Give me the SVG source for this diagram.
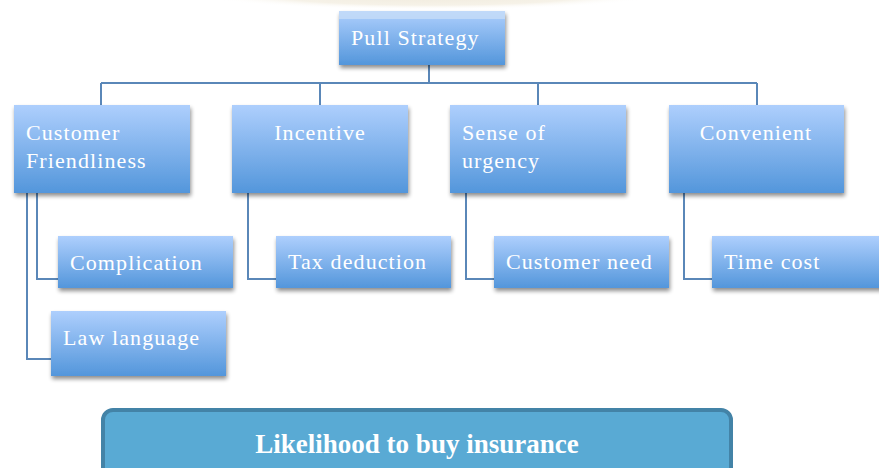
<svg xmlns="http://www.w3.org/2000/svg" width="879" height="468" viewBox="0 0 879 468">
  <defs>
    <linearGradient id="boxFill" x1="0" y1="0" x2="0" y2="1">
      <stop offset="0" stop-color="#aecffd"/>
      <stop offset="1" stop-color="#5396db"/>
    </linearGradient>
    <radialGradient id="glow" cx="0.5" cy="0.5" r="0.5">
      <stop offset="0" stop-color="#efe9da"/>
      <stop offset="0.7" stop-color="#f6f2e8"/>
      <stop offset="1" stop-color="#ffffff" stop-opacity="0"/>
    </radialGradient>
    <filter id="shadow" x="-10%" y="-20%" width="125%" height="150%">
      <feGaussianBlur in="SourceAlpha" stdDeviation="2"/>
      <feOffset dx="1" dy="3" result="b"/>
      <feComponentTransfer><feFuncA type="linear" slope="0.45"/></feComponentTransfer>
      <feMerge><feMergeNode/><feMergeNode in="SourceGraphic"/></feMerge>
    </filter>
  </defs>
  <style>
    .box { fill: url(#boxFill); filter: url(#shadow); }
    .lbl { font-family: "Liberation Serif", "DejaVu Serif", serif; font-size: 22px; letter-spacing: 1.1px; fill: #ffffff; }
    .conn { fill: none; stroke: #5a87b8; stroke-width: 2; }
    .result { fill: #59aad4; stroke: #4383a7; stroke-width: 4; }
    .result-lbl { font-family: "Liberation Serif", serif; font-size: 27px; font-weight: bold; fill: #ffffff; }
  </style>

  <rect width="879" height="468" fill="#ffffff"/>
  <!-- soft glow at the top edge -->
  <ellipse cx="430" cy="-6" rx="230" ry="16" fill="url(#glow)"/>

  <!-- connectors -->
  <g id="connectors">
    <path class="conn" d="M429 65 V83 M101 83 H757 M101 83 V105 M320 83 V105 M538 83 V105 M757 83 V105"/>
    <path class="conn" d="M37 193 V279 H66"/>
    <path class="conn" d="M27 193 V359 H58"/>
    <path class="conn" d="M248 193 V279 H276"/>
    <path class="conn" d="M466 193 V279 H494"/>
    <path class="conn" d="M684 193 V279 H712"/>
  </g>

  <g id="pull-strategy">
    <rect class="box" x="339" y="11" width="166" height="54"/>
    <rect x="339" y="11" width="166" height="8" fill="#c6dcf8" opacity="0.8"/>
    <text class="lbl" x="351" y="45">Pull Strategy</text>
  </g>

  <g id="customer-friendliness">
    <rect class="box" x="14" y="105" width="176" height="88"/>
    <text class="lbl" x="26" y="140">Customer</text>
    <text class="lbl" x="26" y="168">Friendliness</text>
  </g>
  <g id="incentive">
    <rect class="box" x="232" y="105" width="176" height="88"/>
    <text class="lbl" x="320" y="140" text-anchor="middle">Incentive</text>
  </g>
  <g id="sense-of-urgency">
    <rect class="box" x="450" y="105" width="176" height="88"/>
    <text class="lbl" x="462" y="140">Sense of</text>
    <text class="lbl" x="462" y="168">urgency</text>
  </g>
  <g id="convenient">
    <rect class="box" x="669" y="105" width="175" height="88"/>
    <text class="lbl" x="756" y="140" text-anchor="middle">Convenient</text>
  </g>

  <g id="complication">
    <rect class="box" x="58" y="236" width="175" height="52"/>
    <text class="lbl" x="70" y="270">Complication</text>
  </g>
  <g id="law-language">
    <rect class="box" x="51" y="311" width="175" height="65"/>
    <text class="lbl" x="63" y="345">Law language</text>
  </g>
  <g id="tax-deduction">
    <rect class="box" x="276" y="236" width="175" height="52"/>
    <text class="lbl" x="288" y="269">Tax deduction</text>
  </g>
  <g id="customer-need">
    <rect class="box" x="494" y="236" width="175" height="52"/>
    <text class="lbl" x="506" y="269">Customer need</text>
  </g>
  <g id="time-cost">
    <rect class="box" x="712" y="236" width="175" height="52"/>
    <text class="lbl" x="724" y="269">Time cost</text>
  </g>

  <g id="likelihood">
    <rect class="result" x="103" y="410" width="628" height="70" rx="10"/>
    <text class="result-lbl" x="417" y="453" text-anchor="middle">Likelihood to buy insurance</text>
  </g>
</svg>
